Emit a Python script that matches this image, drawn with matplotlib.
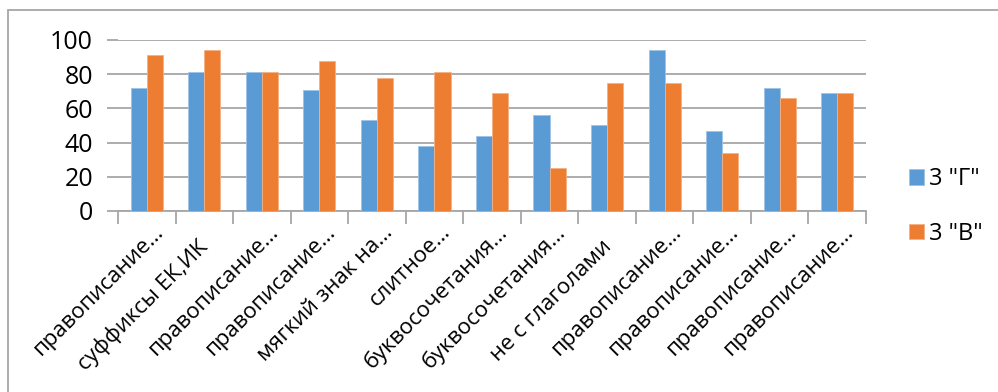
import matplotlib.pyplot as plt
import matplotlib.transforms as mtransforms
from matplotlib.patches import Rectangle
import numpy as np

topics = ['правописание…', 'суффиксы ЕК,ИК', 'правописание…', 'правописание…',
          'мягкий знак на…', 'слитное…', 'буквосочетания…', 'буквосочетания…',
          'не с глаголами', 'правописание…', 'правописание…', 'правописание…',
          'правописание…']
class_g = [72, 81, 81, 71, 53, 38, 44, 56, 50, 94, 47, 72, 69]
class_v = [91, 94, 81, 88, 78, 81, 69, 25, 75, 75, 34, 66, 69]

plt.rcParams['font.family'] = ['Open Sans', 'DejaVu Sans']

fig = plt.figure(figsize=(9.98, 3.92), dpi=100)
W, H = 998, 392
ax = fig.add_axes([118 / W, 1 - 211 / H, (866 - 118) / W, (211 - 40) / H])

# outer chart frame (left and top edges visible)
fig.patches.append(Rectangle((8 / W, -0.1), 1.2, 1.1 - 10 / H, transform=fig.transFigure,
                             fill=False, edgecolor='#A6A6A6', linewidth=1.3))

x = np.arange(len(topics))
w = 0.28
ax.bar(x - w / 2, class_g, w, color='#5B9BD5', edgecolor='#9DC3E6', linewidth=0.6,
       label='3 "Г"', zorder=3)
ax.bar(x + w / 2, class_v, w, color='#ED7D31', edgecolor='#F4B183', linewidth=0.6,
       label='3 "В"', zorder=3)

ax.set_xlim(-0.5, len(topics) - 0.5)
ax.set_ylim(0, 100)
ax.set_yticks(range(0, 101, 20))
ax.yaxis.grid(True, color='#A6A6A6', linewidth=1.3, zorder=0)
ax.tick_params(axis='y', length=8, color='#A6A6A6', width=1.3, labelsize=18, pad=10)

for s in ['top', 'right', 'left']:
    ax.spines[s].set_visible(False)
ax.spines['bottom'].set_color('#A6A6A6')
ax.spines['bottom'].set_linewidth(1.3)

# tick marks between categories, labels at category centres
ax.set_xticks(np.arange(-0.5, len(topics), 1))
ax.set_xticklabels([])
ax.tick_params(axis='x', length=9, color='#A6A6A6', width=1.3)
for i, t in enumerate(topics):
    # truncated labels end a bit further up the diagonal than the full ones
    dx, dy = (17, -22) if t.endswith('…') else (5, -37)
    offset = mtransforms.ScaledTranslation(dx / 100, dy / 100, fig.dpi_scale_trans)
    ax.text(i, 0, t, transform=ax.get_xaxis_transform() + offset, rotation=45,
            rotation_mode='anchor', ha='right', va='baseline', fontsize=16)

ax.legend(loc='upper left', bbox_to_anchor=(909 / W, 1 - 167 / H), bbox_transform=fig.transFigure,
          frameon=False, fontsize=17, handlelength=0.64, handleheight=0.64,
          labelspacing=1.3, handletextpad=0.22, borderpad=0, borderaxespad=0)

fig.savefig('out.png', dpi=100)
